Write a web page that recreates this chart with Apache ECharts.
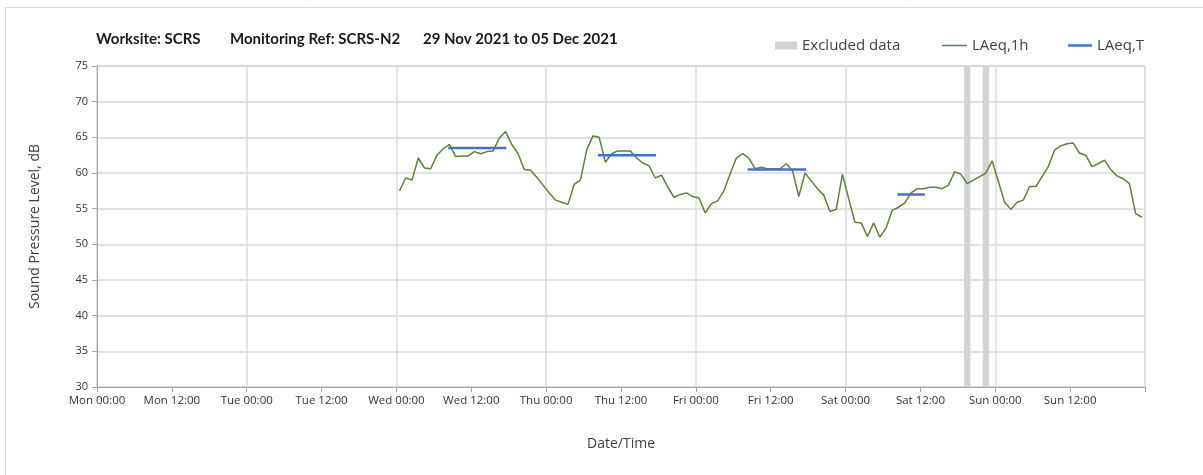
<!DOCTYPE html>
<html>
<head>
<meta charset="utf-8">
<script src="https://cdn.jsdelivr.net/npm/echarts@6/dist/echarts.min.js"></script>
<style>
  html, body { margin: 0; padding: 0; background: #fff; }
  #chart { width: 1203px; height: 475px; }
</style>
</head>
<body>
<div id="chart"></div>
<script>
// x positions are hours from Mon 00:00
const tickLabels = ["Mon 00:00", "Mon 12:00", "Tue 00:00", "Tue 12:00", "Wed 00:00", "Wed 12:00",
    "Thu 00:00", "Thu 12:00", "Fri 00:00", "Fri 12:00", "Sat 00:00", "Sat 12:00", "Sun 00:00", "Sun 12:00", ""];

// hourly LAeq,1h from Wed 00:00 onwards (plotted at mid-hour)
const firstHour = 48.5;
const laeq1h = [
    57.5, 59.3, 59.0, 62.1, 60.7, 60.6, 62.5, 63.4, 64.0, 62.3, 62.4, 62.4,
    63.0, 62.7, 63.0, 63.1, 64.9, 65.8, 64.0, 62.7, 60.5, 60.4, 59.4, 58.3,
    57.2, 56.2, 55.9, 55.6, 58.4, 59.0, 63.2, 65.2, 65.0, 61.5, 62.7, 63.1,
    63.1, 63.1, 62.1, 61.4, 61.0, 59.3, 59.7, 58.0, 56.6, 57.0, 57.2, 56.7,
    56.5, 54.4, 55.7, 56.1, 57.5, 59.9, 62.1, 62.7, 62.1, 60.6, 60.8, 60.6,
    60.6, 60.6, 61.3, 60.3, 56.7, 60.0, 58.9, 57.8, 56.9, 54.6, 54.9, 59.8,
    56.4, 53.1, 53.0, 51.1, 53.0, 51.0, 52.3, 54.8, 55.2, 55.8, 57.2, 57.8,
    57.8, 58.0, 58.0, 57.8, 58.3, 60.2, 59.8, 58.5, 59.0, 59.5, 60.0, 61.7,
    58.8, 55.9, 54.9, 55.9, 56.2, 58.1, 58.1, 59.5, 60.9, 63.2, 63.8, 64.1,
    64.2, 62.8, 62.5, 60.9, 61.3, 61.8, 60.5, 59.6, 59.2, 58.5, 54.3, 53.8
];

// LAeq,T periods
const periodStart = [56.3, 80.3, 104.3, 128.3];
const periodEnd = [65.6, 89.6, 113.7, 132.7];
const periodLevel = [63.5, 62.5, 60.5, 57.0];

// excluded hours
const excludedStart = [139, 142];
const excludedEnd = [140, 143];

const chart = echarts.init(document.getElementById("chart"));

const font = "'Open Sans', 'Noto Sans', sans-serif";
const green = "#5e7f3e";
const blue = "#4472c4";
const grey = "#d3d3d3";

const lineData = laeq1h.map((v, i) => [firstHour + i, v]);

const periodSeries = periodLevel.map((lvl, i) => ({
    name: "LAeq,T",
    type: "line",
    symbol: "none",
    color: blue,
    lineStyle: { width: 2.5, color: blue },
    z: 4,
    data: [[periodStart[i], lvl], [periodEnd[i], lvl]],
}));

const legendText = { fontSize: 15, color: "#404040", fontFamily: font };
const titleStyle = { fontSize: 15, fontWeight: "bold", fill: "#1a1a1a", fontFamily: "Lato, 'Open Sans', sans-serif" };

chart.setOption({
    backgroundColor: "#fff",
    animation: false,
    textStyle: { fontFamily: font },
    legend: [
        { left: 770, top: 33, itemWidth: 22, itemHeight: 8, icon: "rect",
          textStyle: legendText, data: ["Excluded data"] },
        { left: 937, top: 33, itemWidth: 25, itemHeight: 1.5, icon: "rect",
          textStyle: legendText, data: ["LAeq,1h"] },
        { left: 1063, top: 33, itemWidth: 24, itemHeight: 2.5, icon: "rect",
          textStyle: legendText, data: ["LAeq,T"] },
    ],
    graphic: [
        {
            type: "rect",
            shape: { x: 5.5, y: 7.5, width: 1250, height: 500 },
            style: { fill: "none", stroke: "#d9d9d9", lineWidth: 1 },
            silent: true,
            z: -10,
        },
        { type: "text", left: 96, top: 32, style: Object.assign({ text: "Worksite: SCRS" }, titleStyle) },
        { type: "text", left: 230, top: 32, style: Object.assign({ text: "Monitoring Ref: SCRS-N2" }, titleStyle) },
        { type: "text", left: 423, top: 32, style: Object.assign({ text: "29 Nov 2021 to 05 Dec 2021" }, titleStyle) },
    ],
    grid: {
        left: 97, right: 58, top: 66, bottom: 88,
        show: true, borderColor: "#bfbfbf", borderWidth: 1,
    },
    xAxis: [{
        type: "value",
        min: 0, max: 168, interval: 12,
        name: "Date/Time",
        nameLocation: "middle",
        nameGap: 50,
        nameTextStyle: { fontSize: 14, color: "#404040" },
        axisLine: { show: true, lineStyle: { color: "#a6a6a6", width: 1 } },
        axisTick: { show: true, length: 5, inside: false, lineStyle: { color: "#a6a6a6" } },
        axisLabel: {
            fontSize: 11.5, color: "#333", margin: 8,
            formatter: (v) => tickLabels[Math.round(v / 12)] || "",
        },
        splitLine: { show: false },
    }, {
        type: "value",
        min: 0, max: 168, interval: 24,
        position: "bottom",
        axisLine: { show: false },
        axisTick: { show: false },
        axisLabel: { show: false },
        splitLine: { show: true, lineStyle: { color: "#dcdcdc", width: 1.5 } },
    }],
    yAxis: {
        type: "value",
        min: 30, max: 75, interval: 5,
        name: "Sound Pressure Level, dB",
        nameLocation: "middle",
        nameGap: 55,
        nameTextStyle: { fontSize: 14, color: "#404040" },
        axisLine: { show: true, lineStyle: { color: "#a6a6a6" } },
        axisTick: { show: true, length: 5, lineStyle: { color: "#a6a6a6" } },
        axisLabel: { fontSize: 11, color: "#333", margin: 9 },
        splitLine: { show: true, lineStyle: { color: "#d9d9d9", width: 1.5 } },
    },
    series: [
        {
            name: "Excluded data",
            type: "custom",
            color: grey,
            z: 1,
            data: excludedStart.map((s, i) => [s, excludedEnd[i]]),
            renderItem: (params, api) => {
                const p0 = api.coord([api.value(0), 75]);
                const p1 = api.coord([api.value(1), 30]);
                return {
                    type: "rect",
                    shape: { x: p0[0], y: p0[1], width: p1[0] - p0[0], height: p1[1] - p0[1] },
                    style: { fill: grey },
                };
            },
        },
        {
            name: "LAeq,1h",
            type: "line",
            symbol: "none",
            color: green,
            lineStyle: { width: 1.5, color: green },
            z: 3,
            data: lineData,
        },
        ...periodSeries,
    ],
});
</script>
</body>
</html>
